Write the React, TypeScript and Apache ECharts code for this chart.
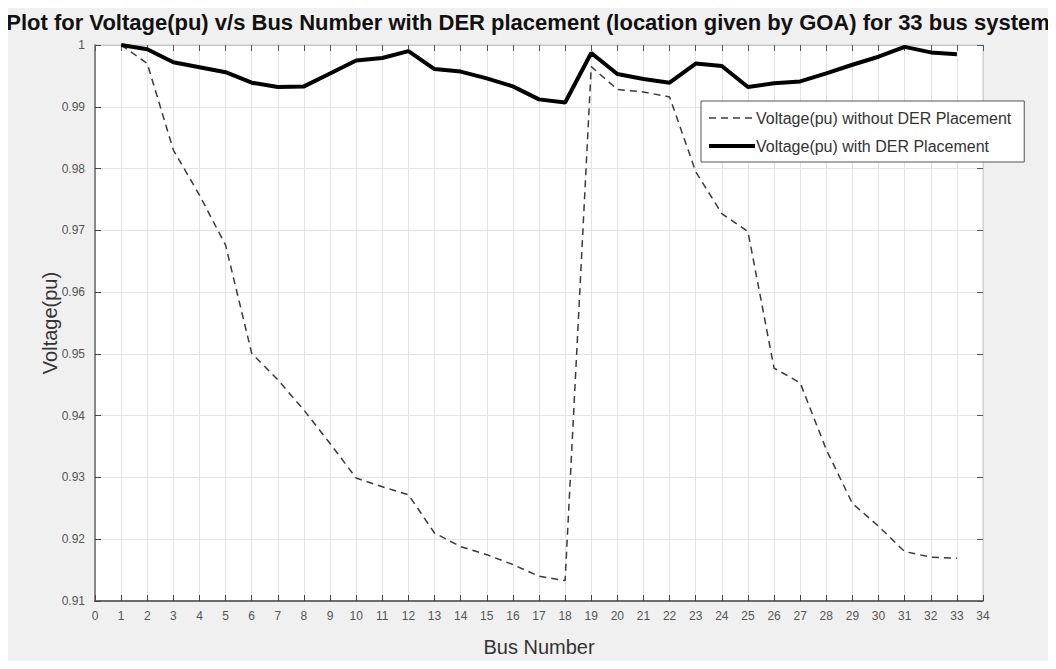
import React, { useEffect, useRef } from "react";
import * as echarts from "echarts";

const chartTitle =
  "Plot for Voltage(pu) v/s Bus Number with DER placement (location given by GOA) for 33 bus system";
const xAxisName = "Bus Number";
const yAxisName = "Voltage(pu)";
const seriesNames = [
  "Voltage(pu) without DER Placement",
  "Voltage(pu) with DER Placement",
];

const busNumbers = [
  1, 2, 3, 4, 5, 6, 7, 8, 9, 10, 11, 12, 13, 14, 15, 16, 17, 18, 19, 20, 21,
  22, 23, 24, 25, 26, 27, 28, 29, 30, 31, 32, 33,
];

const voltageWithoutDER = [
  1.0, 0.997, 0.983, 0.9757, 0.9676, 0.9501, 0.9458, 0.9409, 0.9355, 0.9299,
  0.9285, 0.9272, 0.921, 0.9188, 0.9175, 0.9159, 0.914, 0.9133, 0.9965,
  0.9928, 0.9924, 0.9916, 0.9795, 0.9727, 0.9698, 0.9477, 0.9453, 0.9345,
  0.9258, 0.9221, 0.918, 0.9171, 0.9169,
];

const voltageWithDER = [
  1.0, 0.9993, 0.9972, 0.9964, 0.9956, 0.9939, 0.9932, 0.9933, 0.9954,
  0.9975, 0.9979, 0.999, 0.9961, 0.9957, 0.9946, 0.9933, 0.9912, 0.9907,
  0.9987, 0.9953, 0.9945, 0.9939, 0.997, 0.9966, 0.9932, 0.9938, 0.9941,
  0.9954, 0.9968, 0.9981, 0.9997, 0.9988, 0.9985,
];

const xMin = 0;
const xMax = 34;
const yMin = 0.91;
const yMax = 1.0;

const FONT = "Liberation Sans, Arial, sans-serif";

export default function App() {
  const ref = useRef<HTMLDivElement>(null);

  useEffect(() => {
    if (!ref.current) return;
    const chart = echarts.init(ref.current, undefined, { renderer: "svg" });
    const grid = { left: 95, right: 73, top: 45, bottom: 68 };
    chart.setOption({
      animation: false,
      backgroundColor: "#f0f0f0",
      textStyle: { fontFamily: FONT },
      title: {
        text: chartTitle,
        left: "center",
        top: 6,
        textStyle: {
          fontFamily: FONT,
          fontSize: 22,
          fontWeight: "bold",
          color: "#111",
        },
      },
      legend: {
        orient: "vertical",
        left: 701,
        top: 101,
        backgroundColor: "#ffffff",
        borderColor: "#555",
        borderWidth: 1,
        borderRadius: 0,
        padding: [9, 13, 8, 6],
        itemGap: 12,
        itemWidth: 46,
        itemHeight: 14,
        itemStyle: { opacity: 0 },
        data: [
          { name: seriesNames[0], lineStyle: { width: 1.5, color: "#3a3a3a", type: [7, 5] } },
          { name: seriesNames[1], lineStyle: { width: 4, color: "#000" } },
        ],
        textStyle: { fontFamily: FONT, fontSize: 16, color: "#333", padding: [0, 0, 0, -4] },
      },
      grid: { ...grid, show: true, backgroundColor: "#ffffff", borderColor: "#cfcfcf", borderWidth: 1 },
      xAxis: [
        {
          type: "value",
          min: xMin,
          max: xMax,
          interval: 1,
          name: xAxisName,
          nameLocation: "middle",
          nameGap: 36,
          nameMoveOverlap: false,
          nameTextStyle: { fontFamily: FONT, fontSize: 20, color: "#333" },
          axisLine: { show: true, onZero: false, lineStyle: { color: "#444", width: 1.5 } },
          axisTick: { show: true, inside: true, length: 6, lineStyle: { color: "#444" } },
          axisLabel: { fontFamily: FONT, fontSize: 12, color: "#555", margin: 9 },
          splitLine: { show: true, lineStyle: { color: "#e3e3e3", width: 1 } },
        },
        {
          type: "value",
          position: "top",
          min: xMin,
          max: xMax,
          interval: 1,
          axisLine: { show: true, onZero: false, lineStyle: { color: "#c8c8c8", width: 1 } },
          axisTick: { show: true, inside: true, length: 6, lineStyle: { color: "#555" } },
          axisLabel: { show: false },
          splitLine: { show: false },
        },
      ],
      yAxis: [
        {
          type: "value",
          min: yMin,
          max: yMax,
          interval: 0.01,
          name: yAxisName,
          nameLocation: "middle",
          nameGap: 35,
          nameMoveOverlap: false,
          nameTextStyle: { fontFamily: FONT, fontSize: 20, color: "#333" },
          axisLine: { show: true, onZero: false, lineStyle: { color: "#888", width: 2 } },
          axisTick: { show: true, inside: true, length: 6, lineStyle: { color: "#444" } },
          axisLabel: {
            fontFamily: FONT,
            fontSize: 12,
            color: "#555",
            margin: 10,
            formatter: (v: number) => (Math.abs(v - 1) < 1e-9 ? "1" : v.toFixed(2)),
          },
          splitLine: { show: true, lineStyle: { color: "#e3e3e3", width: 1 } },
        },
        {
          type: "value",
          position: "right",
          min: yMin,
          max: yMax,
          interval: 0.01,
          axisLine: { show: true, onZero: false, lineStyle: { color: "#d0d0d0", width: 1 } },
          axisTick: { show: true, inside: true, length: 6, lineStyle: { color: "#555" } },
          axisLabel: { show: false },
          splitLine: { show: false },
        },
      ],
      series: [
        {
          name: seriesNames[0],
          type: "line",
          xAxisIndex: 0,
          yAxisIndex: 0,
          data: busNumbers.map((b, i) => [b, voltageWithoutDER[i]]),
          showSymbol: false,
          symbol: "none",
          itemStyle: { color: "#333" },
          lineStyle: { color: "#3a3a3a", width: 1.5, type: [7, 5] },
          z: 3,
        },
        {
          name: seriesNames[1],
          type: "line",
          xAxisIndex: 0,
          yAxisIndex: 0,
          data: busNumbers.map((b, i) => [b, voltageWithDER[i]]),
          showSymbol: false,
          symbol: "none",
          itemStyle: { color: "#000" },
          lineStyle: { color: "#000", width: 4 },
          z: 4,
        },
      ],
    });
    return () => chart.dispose();
  }, []);

  return <div ref={ref} style={{ width: 1056, height: 669, margin: -8 }} />;
}
